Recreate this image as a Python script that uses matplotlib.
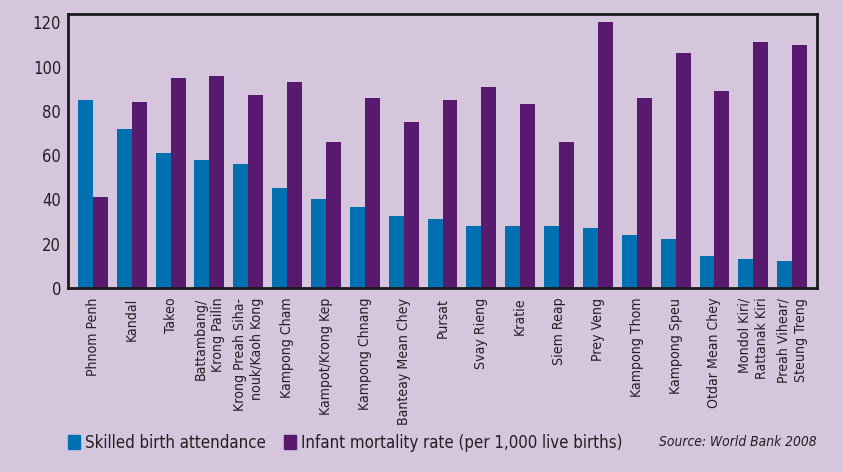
import numpy as np
import matplotlib
matplotlib.use("Agg")
import matplotlib.pyplot as plt
from matplotlib.patches import Patch
from matplotlib import font_manager as fm

provinces = ["Phnom Penh", "Kandal", "Takeo", "Battambang/\nKrong Pailin",
             "Krong Preah Siha-\nnouk/Kaoh Kong", "Kampong Cham", "Kampot/Krong Kep",
             "Kampong Chnang", "Banteay Mean Chey", "Pursat", "Svay Rieng", "Kratie",
             "Siem Reap", "Prey Veng", "Kampong Thom", "Kampong Speu",
             "Otdar Mean Chey", "Mondol Kiri/\nRattanak Kiri", "Preah Vihear/\nSteung Treng"]
skilled_birth = [85, 72, 61, 58, 56, 45, 40, 36.5, 32.5, 31, 28, 28, 28, 27, 24, 22, 14.5, 13, 12]
infant_mortality = [41, 84, 95, 96, 87, 93, 66, 86, 75, 85, 91, 83, 66, 120, 86, 106, 89, 111, 110]

BG = "#d5c6de"
BLUE = "#0070b0"
PURPLE = "#571a6e"
TXT = "#231f20"

# use a condensed face if the system has one, like the original's narrow type
cond = any(f.name == "DejaVu Sans" and "condensed" in str(f.stretch)
           for f in fm.fontManager.ttflist)
plt.rcParams["font.family"] = ["DejaVu Sans"]
k = 1.0
if cond:
    plt.rcParams["font.stretch"] = "condensed"
    k = 1.1

fig = plt.figure(figsize=(8.43, 4.72), dpi=100, facecolor=BG)
ax = fig.add_axes([0.0807, 0.3898, 0.8885, 0.5795])
ax.set_facecolor(BG)

x = np.arange(len(provinces))
w = 0.385
ax.bar(x - w / 2, skilled_birth, w, color=BLUE)
ax.bar(x + w / 2, infant_mortality, w, color=PURPLE)

ax.set_xlim(-0.64, len(provinces) - 1 + 0.64)
ax.set_ylim(0, 123.6)
ax.set_yticks(range(0, 121, 20))
ax.tick_params(axis="y", length=0, pad=5, labelsize=10.8 * k, labelcolor=TXT)
ax.set_xticks(x)
ax.set_xticklabels(provinces, rotation=90, ha="center", va="top",
                   multialignment="right", fontsize=9.2 * k, color=TXT, linespacing=1.3)
ax.tick_params(axis="x", length=0, pad=7)
for s in ax.spines.values():
    s.set_linewidth(2)
    s.set_color("#1a1a1a")

handles = [Patch(color=BLUE, label="Skilled birth attendance"),
           Patch(color=PURPLE, label="Infant mortality rate (per 1,000 live births)")]
fig.legend(handles=handles, loc="center left", bbox_to_anchor=(0.0625, 0.062), ncol=2,
           frameon=False, handlelength=0.7, handleheight=0.9, handletextpad=0.3,
           columnspacing=1.1, fontsize=11 * k, labelcolor=TXT)
fig.text(0.969, 0.064, "Source: World Bank 2008", ha="right", va="center",
         style="italic", fontsize=9 * k, color=TXT)

fig.savefig("out.png", dpi=100, facecolor=BG)
